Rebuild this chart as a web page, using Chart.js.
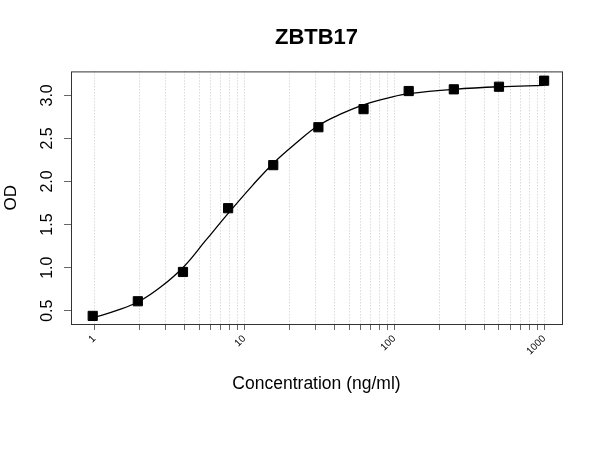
<!DOCTYPE html>
<html lang="en">
<head>
    <meta charset="UTF-8">
    <script src="https://cdn.jsdelivr.net/npm/chart.js@4.4.0/dist/chart.umd.min.js"></script>
    <title>ZBTB17</title>
    <style>
        body { margin: 0; background: #fff; }
        #wrap { width: 600px; height: 450px; }
    </style>
</head>
<body>
    <div id="wrap"><canvas id="chart-area" width="600" height="450"></canvas></div>
    <script type="text/javascript">
        // standard points (ng/ml, OD)
        var concentration = [1000, 500, 250, 125, 62.5, 31.25, 15.625, 7.8125, 3.906, 1.953, 0.977];
        var od = [3.17, 3.10, 3.07, 3.05, 2.84, 2.63, 2.19, 1.69, 0.95, 0.61, 0.44];

        // fitted curve
        var fitConc = [1, 1.4, 2, 2.8, 4, 5.5, 8, 11.3, 15.6, 22, 31.25, 45, 62.5, 96, 125, 250, 500, 1000];
        var fitOD = [0.42, 0.50, 0.61, 0.78, 1.02, 1.31, 1.65, 1.95, 2.21, 2.44, 2.65, 2.79, 2.89, 2.98, 3.02, 3.07, 3.10, 3.115];

        // axis ticks
        var xTicks = [1, 2, 3, 4, 5, 6, 7, 8, 9, 10, 20, 30, 40, 50, 60, 70, 80, 90,
                      100, 200, 300, 400, 500, 600, 700, 800, 900, 1000];
        var xLabels = [1, 10, 100, 1000];
        var yTicks = [0.5, 1.0, 1.5, 2.0, 2.5, 3.0];

        var font = "'Liberation Sans', Arial, sans-serif";

        var points = concentration.map(function(c, i) { return {x: c, y: od[i]}; });
        var curve = fitConc.map(function(c, i) { return {x: c, y: fitOD[i]}; });

        var frame = {
            id: 'frame',
            afterDraw: function(chart) {
                var ctx = chart.ctx;
                var a = chart.chartArea;
                var ys = chart.scales.y;
                ctx.save();
                ctx.strokeStyle = '#333';
                ctx.lineWidth = 1;
                ctx.strokeRect(a.left + 0.5, a.top + 0.5, a.right - a.left, a.bottom - a.top);
                // y labels, rotated like R does them
                ctx.fillStyle = '#000';
                ctx.font = '16px ' + font;
                ctx.textAlign = 'center';
                ctx.textBaseline = 'middle';
                yTicks.forEach(function(v) {
                    ctx.save();
                    ctx.translate(48, ys.getPixelForValue(v));
                    ctx.rotate(-Math.PI / 2);
                    ctx.fillText(v.toFixed(1), 0, 0);
                    ctx.restore();
                });
                ctx.restore();
            }
        };

        var config = {
            type: 'scatter',
            data: {
                datasets: [{
                    label: 'standards',
                    data: points,
                    pointStyle: 'rect',
                    pointRadius: 6.5,
                    pointHoverRadius: 6.5,
                    backgroundColor: '#000',
                    borderColor: '#000',
                    borderWidth: 1
                }, {
                    label: 'fit',
                    data: curve,
                    showLine: true,
                    pointRadius: 0,
                    borderColor: '#000',
                    borderWidth: 1.3,
                    tension: 0.4,
                    fill: false
                }]
            },
            options: {
                responsive: false,
                animation: false,
                layout: { padding: { left: 0, right: 38, top: 0, bottom: 0 } },
                plugins: {
                    legend: { display: false },
                    tooltip: { enabled: false },
                    title: {
                        display: true,
                        text: 'ZBTB17',
                        fullSize: false,
                        color: '#000',
                        font: { family: font, size: 22, weight: 'bold' },
                        padding: { top: 25, bottom: 20 }
                    }
                },
                scales: {
                    x: {
                        type: 'logarithmic',
                        min: 0.737,
                        max: 1316,
                        afterBuildTicks: function(scale) {
                            scale.ticks = xTicks.map(function(v) { return {value: v}; });
                        },
                        afterFit: function(scale) { scale.height = 126; },
                        border: { display: false, dash: [1, 2] },
                        grid: {
                            color: '#c8c8c8',
                            lineWidth: 1,
                            tickLength: 6,
                            tickColor: '#666',
                            tickBorderDash: []
                        },
                        ticks: {
                            autoSkip: false,
                            minRotation: 45,
                            maxRotation: 45,
                            padding: 3,
                            color: '#000',
                            font: { family: font, size: 10 },
                            callback: function(value) {
                                return xLabels.indexOf(value) >= 0 ? String(value) : '';
                            }
                        },
                        title: {
                            display: true,
                            text: 'Concentration (ng/ml)',
                            color: '#000',
                            font: { family: font, size: 17.5 },
                            padding: { top: 0, bottom: 55 }
                        }
                    },
                    y: {
                        type: 'linear',
                        min: 0.346,
                        max: 3.278,
                        afterBuildTicks: function(scale) {
                            scale.ticks = yTicks.map(function(v) { return {value: v}; });
                        },
                        afterFit: function(scale) { scale.width = 71; },
                        border: { display: false },
                        grid: {
                            drawOnChartArea: false,
                            tickLength: 7,
                            tickColor: '#666'
                        },
                        ticks: { display: false },
                        title: {
                            display: true,
                            text: 'OD',
                            color: '#000',
                            font: { family: font, size: 17 },
                            padding: { top: 1, bottom: 0 }
                        }
                    }
                }
            },
            plugins: [frame]
        };

        var ctx = document.getElementById('chart-area').getContext('2d');
        window.myChart = new Chart(ctx, config);
    </script>
</body>
</html>
